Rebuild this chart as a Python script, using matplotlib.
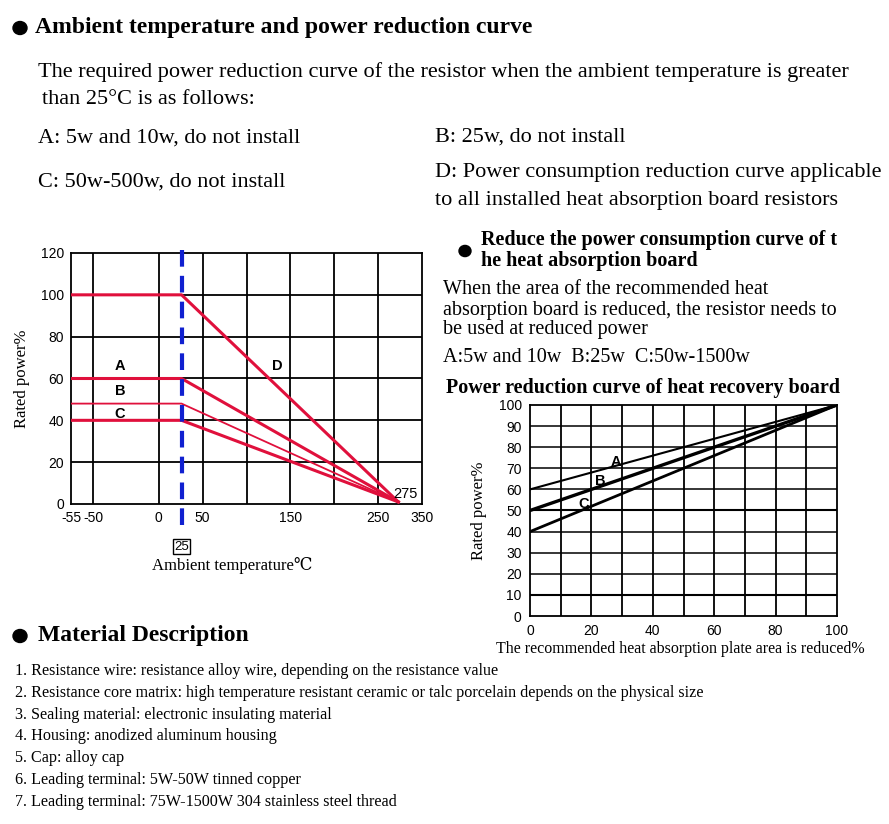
import matplotlib.pyplot as plt

W, H = 889, 824

# left chart: x is drawn on an index scale (the source axis is not linear)
left_tick_pos = [-2.0, -1.49, 0, 1, 3, 5, 6]
left_tick_lab = ['-55', '-50', '0', '50', '150', '250', '350']
left_vgrid = [-1.49, 0, 1, 2, 3, 4, 5]
knee_x = 0.52
end_x = 5.46
curves_left = {'D': 100, 'A': 60, 'B': 48, 'C': 40}
end_y = 1

# right chart
area_x = [0, 100]
curve_a = [60, 100]
curve_b = [50, 100]
curve_c = [40, 100]

materials = [
    "1. Resistance wire: resistance alloy wire, depending on the resistance value",
    "2. Resistance core matrix: high temperature resistant ceramic or talc porcelain depends on the physical size",
    "3. Sealing material: electronic insulating material",
    "4. Housing: anodized aluminum housing",
    "5. Cap: alloy cap",
    "6. Leading terminal: 5W-50W tinned copper",
    "7. Leading terminal: 75W-1500W 304 stainless steel thread",
]

SERIF = ['Liberation Serif', 'DejaVu Serif', 'Noto Sans CJK SC']
SANS = 'Liberation Sans'

fig = plt.figure(figsize=(W / 100, H / 100), dpi=100)


def txt(x, y, s, size, bold=False, **kw):
    fig.text(x / W, 1 - y / H, s, fontsize=size, family=SERIF,
             weight='bold' if bold else 'normal', va='center', **kw)


def bullet(x, y, r=7):
    fig.patches.append(plt.Circle((x / W, 1 - y / H), r / W, transform=fig.transFigure,
                                  color='black'))


def ax_px(l, t, r, b):
    return fig.add_axes([l / W, 1 - b / H, (r - l) / W, (b - t) / H])


bullet(20, 28)
txt(35, 27, "Ambient temperature and power reduction curve", 17, True)
txt(38, 72, "The required power reduction curve of the resistor when the ambient temperature is greater", 16)
txt(42, 100, "than 25\u00b0C is as follows:", 16)
txt(38, 138, "A: 5w and 10w, do not install", 16)
txt(435, 137, "B: 25w, do not install", 16)
txt(435, 172, "D: Power consumption reduction curve applicable", 16)
txt(435, 200, "to all installed heat absorption board resistors", 16)
txt(38, 182, "C: 50w-500w, do not install", 16)

bullet(465, 251, 6)
txt(481, 240, "Reduce the power consumption curve of t", 14.5, True)
txt(481, 261, "he heat absorption board", 14.5, True)
txt(443, 290, "When the area of the recommended heat", 14.5)
txt(443, 310, "absorption board is reduced, the resistor needs to", 14.5)
txt(443, 330, "be used at reduced power", 14.5)
txt(443, 358, "A:5w and 10w  B:25w  C:50w-1500w", 14.5)
txt(446, 388, "Power reduction curve of heat recovery board", 14.5, True)

bullet(20, 636)
txt(38, 636, "Material Description", 17, True)
for i, line in enumerate(materials):
    txt(15, 671 + i * 21.8, line, 11.6)

# ---- left chart
ax = ax_px(71, 253, 422, 504)
ax.set_xlim(-2.0, 6)
ax.set_ylim(0, 120)
for gx in left_vgrid:
    ax.axvline(gx, color='black', lw=1.3)
for gy in range(20, 120, 20):
    ax.axhline(gy, color='black', lw=1.3)
for name, lvl in curves_left.items():
    lw = 1.3 if name == 'B' else 2.2
    ax.plot([-2.0, knee_x, end_x], [lvl, lvl, end_y], color='#e0103c', lw=lw, zorder=3)
ax.plot([knee_x, knee_x], [-10, 122], color='#1020d0', lw=3, ls=(0, (4, 2.2)),
        clip_on=False, zorder=4)
for name, (lx, ly) in {'A': (-0.88, 66), 'B': (-0.88, 54), 'C': (-0.88, 43), 'D': (2.7, 66)}.items():
    ax.text(lx, ly, name, fontsize=10.5, weight='bold', family=SANS, ha='center', va='center')
ax.text(5.35, 5, '275', fontsize=10.5, family=SANS, ha='left', va='center')
ax.set_xticks(left_tick_pos, left_tick_lab)
ax.set_yticks(range(0, 121, 20))
ax.tick_params(length=0, labelsize=10, pad=5)
for t in ax.get_xticklabels() + ax.get_yticklabels():
    t.set_family(SANS)
for s in ax.spines.values():
    s.set_linewidth(1.3)
ax.set_ylabel("Rated power%", family=SERIF, fontsize=12, labelpad=8)
ax.text(knee_x, -0.17, '25', transform=ax.get_xaxis_transform(), fontsize=9.5, family=SANS,
        ha='center', va='center', bbox=dict(boxstyle='square,pad=0.1', fc='white', ec='black', lw=1))
txt(232, 565, "Ambient temperature\u2103", 12, ha='center')

# ---- right chart
ax2 = ax_px(530, 405, 837, 616)
ax2.set_xlim(0, 100)
ax2.set_ylim(0, 100)
for gx in range(10, 100, 10):
    ax2.axvline(gx, color='black', lw=1.3)
for gy in range(10, 100, 10):
    ax2.axhline(gy, color='black', lw=1.5 if gy in (10, 50) else 1.1)
ax2.plot(area_x, curve_a, color='black', lw=1.5)
ax2.plot(area_x, curve_b, color='black', lw=2.4)
ax2.plot(area_x, curve_c, color='black', lw=2.0)
for name, (lx, ly) in {'A': (28, 73), 'B': (23, 64), 'C': (17.5, 53)}.items():
    ax2.text(lx, ly, name, fontsize=10.5, weight='bold', family=SANS, ha='center', va='center')
ax2.set_xticks(range(0, 101, 20))
ax2.set_yticks(range(0, 101, 10))
ax2.tick_params(length=0, labelsize=10, pad=6)
for t in ax2.get_xticklabels() + ax2.get_yticklabels():
    t.set_family(SANS)
for s in ax2.spines.values():
    s.set_linewidth(1.3)
ax2.set_ylabel("Rated power%", family=SERIF, fontsize=12, labelpad=8)
txt(680, 649, "The recommended heat absorption plate area is reduced%", 11.5, ha='center')

fig.savefig('out.png', dpi=100)
